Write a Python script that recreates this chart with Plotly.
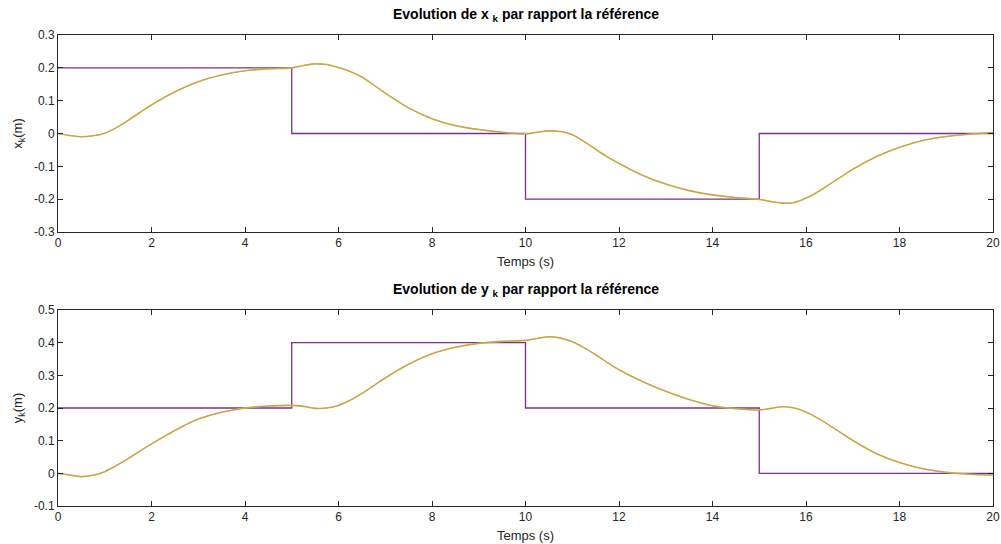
import plotly.graph_objects as go

# Reference steps
t_ref = [0, 5, 10, 15, 20]
x_ref = [0.2, 0.0, -0.2, 0.0, 0.0]
y_ref = [0.2, 0.4, 0.2, 0.0, 0.0]

# Response curves
t_x = [0, 0.25, 0.5, 0.75, 1, 1.25, 1.5, 1.75, 2, 2.5, 3, 3.5, 4, 4.5, 5,
       5.25, 5.5, 5.75, 6, 6.25, 6.5, 6.75, 7, 7.5, 8, 8.5, 9, 9.5, 10,
       10.25, 10.5, 10.75, 11, 11.25, 11.5, 11.75, 12, 12.5, 13, 13.5, 14, 14.5, 15,
       15.25, 15.5, 15.75, 16, 16.25, 16.5, 16.75, 17, 17.5, 18, 18.5, 19, 19.5, 20]
x_k = [0, -0.006, -0.01, -0.007, 0.001, 0.018, 0.04, 0.064, 0.087, 0.127, 0.158, 0.178, 0.191, 0.197, 0.2,
       0.207, 0.212, 0.21, 0.201, 0.189, 0.172, 0.148, 0.123, 0.078, 0.045, 0.024, 0.012, 0.004, -0.001,
       0.004, 0.008, 0.006, -0.004, -0.024, -0.048, -0.071, -0.091, -0.127, -0.154, -0.174, -0.187, -0.195, -0.201,
       -0.207, -0.212, -0.21, -0.197, -0.178, -0.155, -0.132, -0.109, -0.071, -0.042, -0.021, -0.009, -0.002, 0.003]

t_y = t_x
y_k = [0, -0.005, -0.01, -0.006, 0.005, 0.024, 0.045, 0.068, 0.09, 0.131, 0.166, 0.187, 0.2, 0.206, 0.208,
       0.205, 0.199, 0.2, 0.208, 0.224, 0.244, 0.268, 0.292, 0.334, 0.366, 0.386, 0.398, 0.404, 0.407,
       0.413, 0.418, 0.414, 0.403, 0.385, 0.363, 0.339, 0.317, 0.281, 0.251, 0.226, 0.207, 0.198, 0.194,
       0.199, 0.204, 0.2, 0.188, 0.169, 0.147, 0.124, 0.101, 0.061, 0.033, 0.014, 0.003, -0.003, -0.005]

x_ticks = [0, 2, 4, 6, 8, 10, 12, 14, 16, 18, 20]
y1_ticks = [-0.3, -0.2, -0.1, 0, 0.1, 0.2, 0.3]
y1_labels = ["-0.3", "-0.2", "-0.1", "0", "0.1", "0.2", "0.3"]
y2_ticks = [-0.1, 0, 0.1, 0.2, 0.3, 0.4, 0.5]
y2_labels = ["-0.1", "0", "0.1", "0.2", "0.3", "0.4", "0.5"]

PURPLE = "#7E2F8E"
ORANGE = "#E3B02A"
OLIVE = "#ABA27A"
AX = "#262626"
FONT = "Liberation Sans, Arial, sans-serif"

fig = go.Figure()

def add_panel(xa, ya, t, resp, ref):
    fig.add_trace(go.Scatter(x=t_ref, y=ref, mode="lines", line=dict(color=PURPLE, width=1.3, shape="hv"),
                             xaxis=xa, yaxis=ya, showlegend=False, hoverinfo="skip"))
    fig.add_trace(go.Scatter(x=t, y=resp, mode="lines", line=dict(color=ORANGE, width=1.6, shape="spline", smoothing=1.0),
                             xaxis=xa, yaxis=ya, showlegend=False))
    fig.add_trace(go.Scatter(x=t, y=resp, mode="lines", line=dict(color=OLIVE, width=0.8, shape="spline", smoothing=1.0),
                             xaxis=xa, yaxis=ya, showlegend=False))

add_panel("x", "y", t_x, x_k, x_ref)
add_panel("x2", "y2", t_y, y_k, y_ref)

axis_common = dict(showline=True, linecolor=AX, linewidth=1, mirror="ticks", ticks="inside",
                   ticklen=5, tickcolor=AX, showgrid=False, zeroline=False, automargin=False,
                   tickfont=dict(family=FONT, size=12, color=AX))

fig.update_layout(
    width=1001, height=544,
    margin=dict(l=58, r=8, t=35, b=38),
    plot_bgcolor="white", paper_bgcolor="white",
    font=dict(family=FONT, color=AX),
    xaxis=dict(domain=[0, 1], anchor="y", range=[0, 20], tickvals=x_ticks,
               title=dict(text="Temps (s)", font=dict(size=13), standoff=7), **axis_common),
    yaxis=dict(domain=[0.5817, 1.0], anchor="x", range=[-0.3, 0.3], tickvals=y1_ticks, ticktext=y1_labels,
               title=dict(text="x<sub>k</sub>(m)", font=dict(size=13), standoff=8), **axis_common),
    xaxis2=dict(domain=[0, 1], anchor="y2", range=[0, 20], tickvals=x_ticks,
                title=dict(text="Temps (s)", font=dict(size=13), standoff=7), **axis_common),
    yaxis2=dict(domain=[0, 0.4161], anchor="x2", range=[-0.1, 0.5], tickvals=y2_ticks, ticktext=y2_labels,
                title=dict(text="y<sub>k</sub>(m)", font=dict(size=13), standoff=8), **axis_common),
    annotations=[
        dict(text="<b>Evolution de x <sub>k</sub> par rapport la référence</b>", x=0.5, y=1.0,
             xref="paper", yref="paper", xanchor="center", yanchor="bottom", yshift=9,
             showarrow=False, font=dict(size=14, color="black", family=FONT)),
        dict(text="<b>Evolution de y <sub>k</sub> par rapport la référence</b>", x=0.5, y=0.4161,
             xref="paper", yref="paper", xanchor="center", yanchor="bottom", yshift=9,
             showarrow=False, font=dict(size=14, color="black", family=FONT)),
    ],
)

fig.write_html("out.html")
